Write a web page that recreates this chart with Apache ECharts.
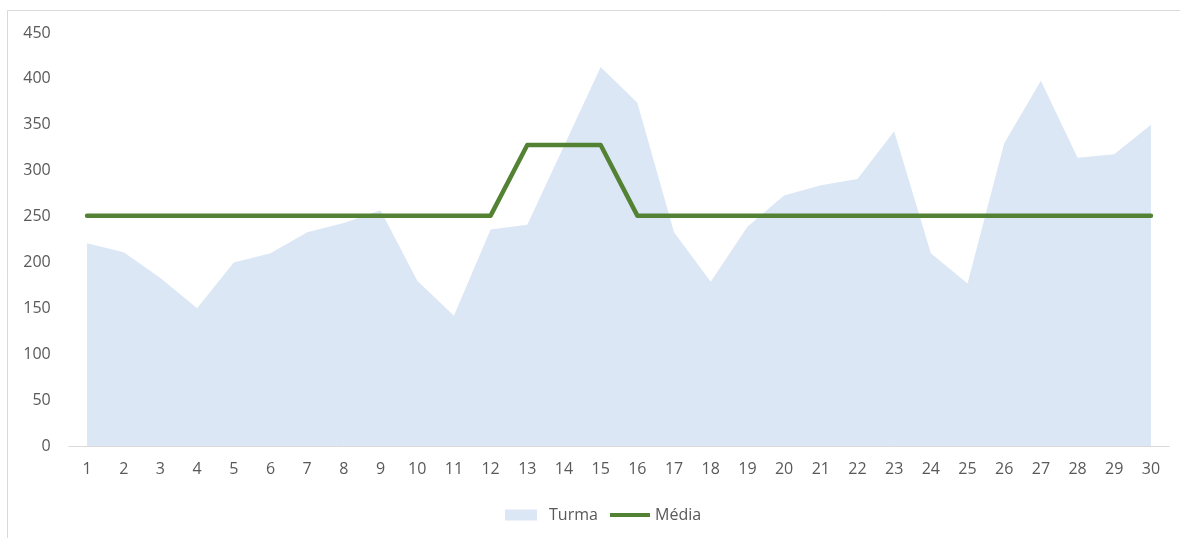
<!DOCTYPE html>
<html>
<head>
<meta charset="utf-8">
<script src="https://cdn.jsdelivr.net/npm/echarts@6/dist/echarts.min.js"></script>
<style>
html,body{margin:0;padding:0;background:#fff;}
#chart{width:1180px;height:538px;}
</style>
</head>
<body>
<div id="chart"></div>
<script>
const categories = ['1','2','3','4','5','6','7','8','9','10','11','12','13','14','15','16','17','18','19','20','21','22','23','24','25','26','27','28','29','30'];
const turma = [221, 211, 183, 150, 200, 210, 233, 243, 257, 180, 142, 236, 241, 327, 413, 374, 233, 179, 239, 273, 284, 291, 343, 210, 177, 330, 398, 314, 318, 350];
const media = [251, 251, 251, 251, 251, 251, 251, 251, 251, 251, 251, 251, 328, 328, 328, 251, 251, 251, 251, 251, 251, 251, 251, 251, 251, 251, 251, 251, 251, 251];
const yTicks = { min: 0, max: 450, interval: 50 };

const font = '"Open Sans", "Noto Sans", sans-serif';
const chart = echarts.init(document.getElementById('chart'), null, { renderer: 'canvas' });
chart.setOption({
  animation: false,
  backgroundColor: '#ffffff',
  textStyle: { fontFamily: font },
  graphic: [{
    type: 'rect', silent: true, z: -1,
    shape: { x: 7.5, y: 10.5, width: 1200, height: 600 },
    style: { fill: null, stroke: '#d9d9d9', lineWidth: 1 }
  }],
  grid: { left: 68.7, right: 10.7, top: 33, bottom: 92, containLabel: false },
  legend: [{
    data: [{ name: 'Turma', icon: 'rect' }],
    left: 500, top: 502, itemWidth: 32, itemHeight: 11, itemGap: 10,
    textStyle: { color: '#595959', fontSize: 16, fontFamily: font, padding: [0, 0, 0, 7] }
  }, {
    data: [{ name: 'Média', icon: 'path://M0,0 L40,0 L40,4 L0,4 Z' }],
    left: 605, top: 502, itemWidth: 40, itemHeight: 4, itemGap: 5,
    textStyle: { color: '#595959', fontSize: 16, fontFamily: font }
  }],
  xAxis: {
    type: 'category', data: categories, boundaryGap: true,
    axisLine: { show: true, lineStyle: { color: '#d9d9d9', width: 1 } },
    axisTick: { show: false },
    axisLabel: { color: '#595959', fontSize: 16, margin: 15, interval: 0, fontFamily: font },
    splitLine: { show: false }
  },
  yAxis: {
    type: 'value', min: yTicks.min, max: yTicks.max, interval: yTicks.interval,
    axisLine: { show: false }, axisTick: { show: false },
    axisLabel: { color: '#595959', fontSize: 16, margin: 18, fontFamily: font },
    splitLine: { show: false }
  },
  series: [{
    name: 'Turma', type: 'line', data: turma,
    showSymbol: false, symbol: 'none',
    lineStyle: { width: 0, color: '#dce7f5' },
    itemStyle: { color: '#dce7f5' },
    areaStyle: { color: '#dce7f5', opacity: 1 },
    z: 1
  }, {
    name: 'Média', type: 'line', data: media,
    showSymbol: false, symbol: 'none',
    lineStyle: { width: 4.5, color: '#548235', cap: 'round', join: 'round' },
    itemStyle: { color: '#548235' },
    z: 2
  }]
});
</script>
</body>
</html>
